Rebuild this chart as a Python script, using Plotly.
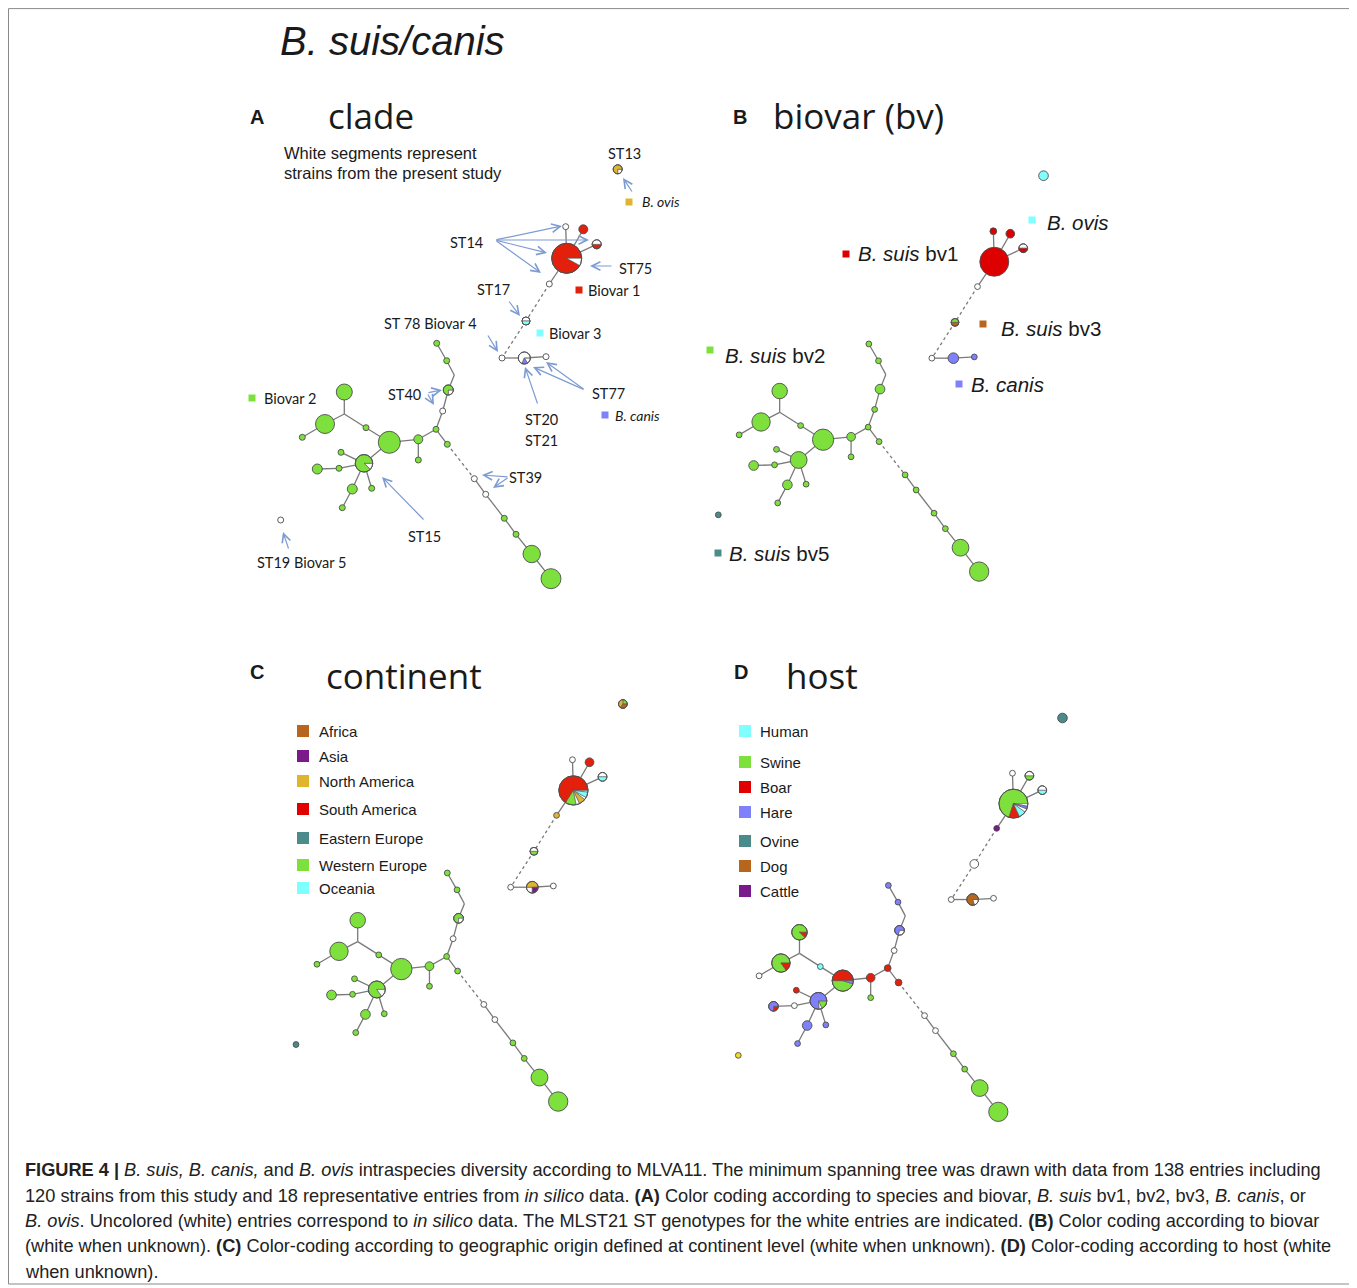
import math
import plotly.graph_objects as go

FIG_W, FIG_H = 1357, 1288
PAGE_OFF = 8  # browser body margin

RED = "#e2200b"; GREEN = "#7ee03c"; WHITE = "#ffffff"; CYAN = "#80ffff"
BLUE = "#8080fa"; TEAL = "#4b8c8a"; BROWN = "#b8661e"; PURPLE = "#7a1a8a"
YELLOW = "#e0b52e"; YELLOW2 = "#f0dc1e"; RED2 = "#dd0000"

# ---- base minimum-spanning-tree layout (node positions of the clade panel) ----
node_x = [566.7, 565.7, 583.3, 596.7, 549.3, 526.0, 502.0, 524.3, 546.0, 617.7,
          436.7, 446.7, 454.3, 448.3, 442.7, 436.0, 418.3, 418.3, 389.3, 366.0,
          344.3, 344.3, 325.0, 302.3, 364.0, 341.0, 339.0, 317.3, 352.3, 342.3,
          371.7, 447.3, 474.3, 485.7, 504.3, 516.0, 531.7, 551.0, 280.7]
node_y = [258.3, 226.7, 229.3, 244.3, 284.0, 321.0, 358.0, 358.0, 356.7, 169.3,
          343.3, 360.7, 375.0, 390.0, 411.0, 429.3, 439.3, 460.0, 442.3, 427.7,
          414.0, 392.0, 424.0, 437.3, 463.3, 452.3, 468.3, 469.0, 489.0, 507.7,
          488.3, 444.3, 478.7, 494.3, 518.3, 534.3, 554.0, 578.7, 520.0]
node_r = [15, 3, 4.5, 4.5, 3, 4, 3, 6, 3, 4.5,
          3, 3, 0, 5, 3, 3, 4.5, 3, 11, 3,
          0, 8, 9.5, 3, 8.7, 3, 3, 5, 5, 3,
          3, 3, 3, 3, 3, 3, 8.7, 10, 3]
edges_solid = [(0, 1), (0, 2), (0, 3), (0, 4), (6, 7), (7, 8), (10, 11), (11, 12), (12, 13),
               (13, 14), (14, 15), (15, 16), (16, 18), (16, 17), (15, 31), (32, 33), (33, 34),
               (34, 35), (35, 36), (36, 37), (18, 19), (19, 20), (20, 21), (20, 22), (22, 23),
               (18, 24), (24, 25), (24, 26), (26, 27), (24, 28), (28, 29), (24, 30)]
edges_dashed = [(4, 5), (5, 6), (31, 32)]

# ---- node colouring per panel (segments listed counter-clockwise from 3 o'clock) ----
comp_A = {0: [(RED, .92), (WHITE, .08)], 1: WHITE, 2: RED, 3: [(WHITE, .5), (RED, .5)], 4: WHITE,
          5: [(WHITE, .5), (CYAN, .5)], 6: WHITE, 7: [(WHITE, .69), (BLUE, .15), (WHITE, .16)],
          8: WHITE, 9: [(YELLOW, .75), (WHITE, .25)], 13: [(GREEN, .75), (WHITE, .25)], 14: WHITE,
          24: [(GREEN, .88), (WHITE, .12)], 32: WHITE, 33: WHITE, 38: WHITE}
comp_B = {0: RED2, 1: RED2, 2: RED2, 3: [(WHITE, .5), (RED2, .5)], 4: WHITE,
          5: [(GREEN, .5), (BROWN, .5)], 6: WHITE, 7: BLUE, 8: BLUE, 9: CYAN, 38: TEAL}
comp_C = {0: [(RED, .66), (GREEN, .12), (WHITE, .04), (YELLOW, .07), (WHITE, .03), (CYAN, .06), (WHITE, .02)],
          1: WHITE, 2: RED, 3: [(WHITE, .5), (CYAN, .5)], 4: YELLOW, 5: [(WHITE, .5), (GREEN, .5)],
          6: WHITE, 7: [(YELLOW, .5), (WHITE, .25), (PURPLE, .25)], 8: WHITE,
          9: [(GREEN, .25), (YELLOW, .4), (BROWN, .35)], 13: [(GREEN, .75), (WHITE, .25)], 14: WHITE,
          24: [(GREEN, .85), (WHITE, .15)], 32: WHITE, 33: WHITE, 38: TEAL}
comp_D = {0: [(GREEN, .70), (RED, .12), (CYAN, .08), (WHITE, .04), (BLUE, .03), (WHITE, .03)],
          1: WHITE, 2: [(WHITE, .5), (GREEN, .5)], 3: [(WHITE, .5), (CYAN, .5)], 4: PURPLE, 5: WHITE,
          6: WHITE, 7: [(BROWN, .8), (WHITE, .2)], 8: WHITE, 9: TEAL, 10: BLUE, 11: BLUE,
          13: [(BLUE, .7), (WHITE, .3)], 14: WHITE, 15: RED, 16: RED, 17: GREEN,
          18: [(RED, .5), (GREEN, .45), (BLUE, .05)], 19: CYAN, 21: [(GREEN, .88), (RED, .12)],
          22: [(GREEN, .85), (RED, .15)], 23: WHITE, 24: [(BLUE, .76), (WHITE, .06), (GREEN, .18)],
          25: RED, 26: WHITE, 27: [(BLUE, .75), (RED, .25)], 28: BLUE, 29: BLUE, 30: BLUE, 31: RED,
          32: WHITE, 33: WHITE, 38: YELLOW2}
radius_override = {"B": {1: 3.5, 7: 5.5, 9: 5}, "C": {}, "D": {5: 4.5, 7: 6, 15: 3.5, 16: 4.5, 31: 3.5, 9: 5}, "A": {}}

panels = {  # anchor = where the base point (280.7, 169.3) lands, plus scale
    "A": dict(ox=280.7, oy=169.3, sx=1.0, sy=1.0, comp=comp_A),
    "B": dict(ox=718.3, oy=175.7, sx=0.965, sy=0.967, comp=comp_B),
    "C": dict(ox=296.0, oy=704.0, sx=0.970, sy=0.971, comp=comp_C),
    "D": dict(ox=738.3, oy=718.0, sx=0.962, sy=0.962, comp=comp_D),
}

fig = go.Figure()
EDGE = "#7a7a7a"; OUT = "#4d4d4d"

for key, p in panels.items():
    X = [p["ox"] + (x - 280.7) * p["sx"] for x in node_x]
    Y = [p["oy"] + (y - 169.3) * p["sy"] for y in node_y]
    s = (p["sx"] + p["sy"]) / 2
    R = [radius_override[key].get(i, node_r[i]) * s for i in range(len(node_r))]
    for elist, dash in ((edges_solid, "solid"), (edges_dashed, "dot")):
        ex, ey = [], []
        for a, b in elist:
            ex += [X[a], X[b], None]; ey += [Y[a], Y[b], None]
        fig.add_trace(go.Scatter(x=ex, y=ey, mode="lines", hoverinfo="skip",
                                 line=dict(color=EDGE, width=1.3, dash=dash)))
    idx = [i for i in range(len(X)) if node_r[i] > 0]
    comp = p["comp"]
    fills = []
    for i in idx:
        c = comp.get(i, GREEN)
        fills.append(c if isinstance(c, str) else WHITE)
    fig.add_trace(go.Scatter(x=[X[i] for i in idx], y=[Y[i] for i in idx], mode="markers",
                             hoverinfo="skip",
                             marker=dict(size=[2 * R[i] for i in idx], color=fills, opacity=1,
                                         line=dict(color=OUT, width=0.9))))
    # pie wedges
    wedges = {}
    pies = [i for i in idx if not isinstance(comp.get(i, GREEN), str)]
    for i in pies:
        a0 = 0.0
        for col, fr in comp[i]:
            a1 = a0 + fr * 2 * math.pi
            n = max(4, int(60 * fr))
            px = [X[i]] + [X[i] + R[i] * math.cos(a0 + (a1 - a0) * k / n) for k in range(n + 1)] + [X[i], None]
            py = [Y[i]] + [Y[i] - R[i] * math.sin(a0 + (a1 - a0) * k / n) for k in range(n + 1)] + [Y[i], None]
            wx, wy = wedges.setdefault(col, ([], []))
            wx += px; wy += py
            a0 = a1
    for col, (wx, wy) in wedges.items():
        fig.add_trace(go.Scatter(x=wx, y=wy, mode="lines", fill="toself", fillcolor=col,
                                 hoverinfo="skip", line=dict(color="#555555", width=0.6)))
    if pies:
        fig.add_trace(go.Scatter(x=[X[i] for i in pies], y=[Y[i] for i in pies], mode="markers",
                                 hoverinfo="skip",
                                 marker=dict(size=[2 * R[i] for i in pies], color="rgba(0,0,0,0)",
                                             opacity=1, line=dict(color=OUT, width=0.9))))

# ---- legend swatches ----
sw_x = [629, 579, 540, 605, 252, 1032, 846, 983, 710, 959, 718]
sw_y = [202, 290, 333, 415, 398, 220, 254, 324, 350, 384, 553]
sw_c = [YELLOW, RED, CYAN, BLUE, GREEN, CYAN, RED2, BROWN, GREEN, BLUE, TEAL]
fig.add_trace(go.Scatter(x=sw_x, y=sw_y, mode="markers", hoverinfo="skip",
                         marker=dict(symbol="square", size=7, color=sw_c, opacity=1, line=dict(width=0))))

cont_labels = ["Africa", "Asia", "North America", "South America", "Eastern Europe", "Western Europe", "Oceania"]
cont_colors = [BROWN, PURPLE, YELLOW, "#e00000", TEAL, GREEN, CYAN]
cont_y = [731, 756, 781, 809, 838, 865, 888]
host_labels = ["Human", "Swine", "Boar", "Hare", "Ovine", "Dog", "Cattle"]
host_colors = [CYAN, GREEN, "#e00000", BLUE, TEAL, BROWN, PURPLE]
host_y = [731, 762, 787, 812, 841, 866, 891]
fig.add_trace(go.Scatter(x=[303] * 7 + [745] * 7, y=cont_y + host_y, mode="markers", hoverinfo="skip",
                         marker=dict(symbol="square", size=12, color=cont_colors + host_colors,
                                     opacity=1, line=dict(width=0))))

ann = []
def txt(t, x, y, size, family="Liberation Sans", anchor="center", color="#1a1a1a"):
    ann.append(dict(text=t, x=x, y=y, xref="x", yref="y", showarrow=False, xanchor=anchor,
                    yanchor="middle", font=dict(size=size, family=family, color=color)))

for lab, yy in zip(cont_labels, cont_y):
    txt(lab, 317, yy, 15, anchor="left")
for lab, yy in zip(host_labels, host_y):
    txt(lab, 758, yy, 15, anchor="left")

txt("<i>B. suis/canis</i>", 392, 41, 40)
txt("<b>A</b>", 257, 117, 20); txt("<b>B</b>", 740, 117, 20)
txt("<b>C</b>", 257, 672, 20); txt("<b>D</b>", 741, 672, 20)
txt("clade", 326, 115.5, 35, "Open Sans", "left")
txt("biovar (bv)", 771, 115.5, 35, "Open Sans", "left")
txt("continent", 324, 675.5, 35, "Open Sans", "left")
txt("host", 784, 675.5, 35, "Open Sans", "left")

txt("White segments represent", 282, 153, 16.5, anchor="left")
txt("strains from the present study", 282, 173, 16.5, anchor="left")
LF = "Lato"
for t, x, y in [("ST13", 624, 153), ("ST14", 466, 242), ("ST75", 635, 268), ("ST17", 493, 289),
                ("ST 78 Biovar 4", 430, 323), ("ST77", 608, 393), ("ST20", 541, 419), ("ST21", 541, 440),
                ("ST40", 404, 394), ("ST39", 525, 477), ("ST15", 424, 536), ("ST19 Biovar 5", 301, 562)]:
    txt(t, x, y, 14.5, LF)
txt("<i>B. ovis</i>", 640, 201, 14, LF, "left")
txt("Biovar 1", 586, 290, 14.5, LF, "left")
txt("Biovar 3", 547, 333, 14.5, LF, "left")
txt("<i>B. canis</i>", 613, 415, 14, LF, "left")
txt("Biovar 2", 262, 398, 14.5, LF, "left")

txt("<i>B. ovis</i>", 1045, 222, 20.5, anchor="left")
txt("<i>B. suis</i> bv1", 856, 253, 20.5, anchor="left")
txt("<i>B. suis</i> bv3", 999, 328, 20.5, anchor="left")
txt("<i>B. suis</i> bv2", 723, 355, 20.5, anchor="left")
txt("<i>B. canis</i>", 969, 384, 20.5, anchor="left")
txt("<i>B. suis</i> bv5", 727, 553, 20.5, anchor="left")

arrows = [((633, 193), (623, 178)),
          ((495, 240), (562, 226)), ((495, 240), (589, 240)), ((495, 240), (547, 253)), ((495, 240), (541, 273)),
          ((613, 266), (590, 266)), ((508, 300), (520, 316)), ((487, 334), (498, 352)),
          ((585, 390), (546, 362)), ((585, 390), (533, 367)), ((538, 405), (525, 367)),
          ((427, 393), (442, 390)), ((427, 393), (434, 405)),
          ((509, 477), (482, 475)), ((509, 477), (493, 488)),
          ((425, 521), (382, 477)), ((289, 550), (283, 532))]
for (tx, ty), (hx, hy) in arrows:
    ann.append(dict(text="", x=hx, y=hy, ax=tx, ay=ty, xref="x", yref="y", axref="x", ayref="y",
                    showarrow=True, arrowhead=5, arrowsize=1.4, arrowwidth=1.2, arrowcolor="#7d9bd3"))

caption = [
    "<b>FIGURE 4 |</b> <i>B. suis, B. canis,</i> and <i>B. ovis</i> intraspecies diversity according to MLVA11. The minimum spanning tree was drawn with data from 138 entries including",
    "120 strains from this study and 18 representative entries from <i>in silico</i> data. <b>(A)</b> Color coding according to species and biovar, <i>B. suis</i> bv1, bv2, bv3, <i>B. canis</i>, or",
    "<i>B. ovis</i>. Uncolored (white) entries correspond to <i>in silico</i> data. The MLST21 ST genotypes for the white entries are indicated. <b>(B)</b> Color coding according to biovar",
    "(white when unknown). <b>(C)</b> Color-coding according to geographic origin defined at continent level (white when unknown). <b>(D)</b> Color-coding according to host (white",
    "when unknown).",
]
cap_y = [1170, 1196, 1221, 1246, 1272]
for t, yy in zip(caption, cap_y):
    txt(t, 23, yy, 18.2, anchor="left", color="#222222")

fig.update_layout(
    width=FIG_W - PAGE_OFF, height=FIG_H - PAGE_OFF, margin=dict(l=0, r=0, t=0, b=0),
    paper_bgcolor="white", plot_bgcolor="white", showlegend=False,
    xaxis=dict(range=[PAGE_OFF, FIG_W], visible=False, fixedrange=True),
    yaxis=dict(range=[FIG_H, PAGE_OFF], visible=False, fixedrange=True),
    annotations=ann,
    shapes=[dict(type="rect", xref="x", yref="y", x0=8.5, y0=8.6, x1=1354.5, y1=1284,
                 line=dict(color="#8a8a8a", width=1), layer="below")],
)
fig.write_html("out.html")
